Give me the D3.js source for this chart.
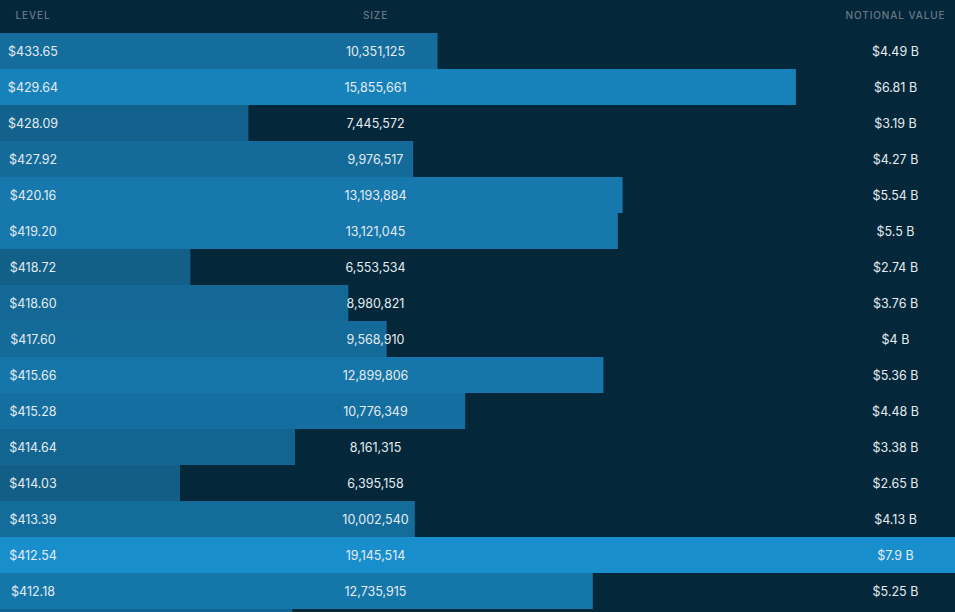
<!DOCTYPE html>
<html>
<head>
<meta charset="utf-8">
<script src="https://cdn.jsdelivr.net/npm/d3@7"></script>
<style>
  html, body { margin: 0; padding: 0; background: #05273a; }
  svg { display: block; }
</style>
</head>
<body>
<svg width="955" height="612"></svg>
<script>
var levels = ["$433.65","$429.64","$428.09","$427.92","$420.16","$419.20","$418.72","$418.60",
  "$417.60","$415.66","$415.28","$414.64","$414.03","$413.39","$412.54","$412.18","$411.90"];
var sizes = [10351125,15855661,7445572,9976517,13193884,13121045,6553534,8980821,
  9568910,12899806,10776349,8161315,6395158,10002540,19145514,12735915,8120000];
var notional = ["$4.49 B","$6.81 B","$3.19 B","$4.27 B","$5.54 B","$5.5 B","$2.74 B","$3.76 B",
  "$4 B","$5.36 B","$4.48 B","$3.38 B","$2.65 B","$4.13 B","$7.9 B","$5.25 B","$3.34 B"];
var headers = ["LEVEL","SIZE","NOTIONAL VALUE"];

function main(){
  var svg = d3.select("svg"),
      width = +svg.attr("width"),
      height = +svg.attr("height"),
      top = 33,
      rowH = 36;

  var rows = levels.map(function(l, i){
    return {level: l, size: sizes[i], notional: notional[i]};
  });

  var x = d3.scaleLinear().domain([3630000, 18300000]).range([0, width]).clamp(true);
  var y = d3.scaleBand().domain(d3.range(rows.length)).range([top, top + rowH * rows.length]);
  var color = d3.scaleLinear().domain([6400000, 19145514])
    .range(["#125e87", "#198ecc"]).clamp(true);
  var colX = [33, 375.5, 895.5];
  var fmt = d3.format(",");

  svg.append("rect").attr("width", width).attr("height", height).attr("fill", "#05273a");

  // header
  svg.selectAll(".head")
    .data(headers)
    .enter()
    .append("text")
    .attr("class", "head")
    .attr("x", function(d, i){ return colX[i]; })
    .attr("y", 15)
    .attr("text-anchor", "middle")
    .attr("dominant-baseline", "central")
    .attr("font-family", "Inter, 'Noto Sans', sans-serif")
    .attr("font-size", "10px")
    .attr("font-weight", 500)
    .attr("letter-spacing", "0.9px")
    .attr("fill", "#677986")
    .text(function(d){ return d; });

  var g = svg.selectAll(".row")
    .data(rows)
    .enter()
    .append("g")
    .attr("class", "row")
    .attr("transform", function(d, i){ return "translate(0," + y(i) + ")"; });

  g.append("rect")
    .attr("x", 0)
    .attr("y", 0)
    .attr("width", function(d){ return x(d.size); })
    .attr("height", y.bandwidth())
    .attr("fill", function(d){ return color(d.size); });

  // only label rows whose middle is inside the picture
  var shown = g.filter(function(d, i){ return y(i) + rowH / 2 < height; });

  var cells = [
    function(d){ return d.level; },
    function(d){ return fmt(d.size); },
    function(d){ return d.notional; }
  ];
  cells.forEach(function(f, c){
    shown.append("text")
      .attr("x", colX[c])
      .attr("y", rowH / 2)
      .attr("text-anchor", "middle")
      .attr("dominant-baseline", "central")
      .attr("font-family", "Inter, 'Noto Sans', sans-serif")
      .attr("font-size", "12.5px")
      .attr("fill", "#e4ecf1")
      .text(f);
  });
}
main();
</script>
</body>
</html>
